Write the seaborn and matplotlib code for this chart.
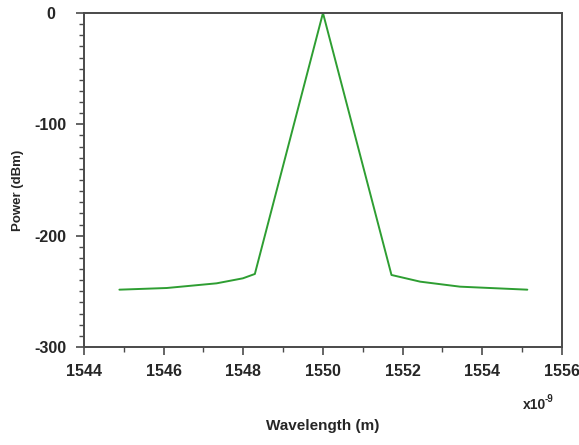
import matplotlib
matplotlib.use("Agg")
import matplotlib.pyplot as plt
from matplotlib.ticker import MultipleLocator, FuncFormatter
import numpy as np
import pandas as pd
import seaborn as sns

# Spectrum samples: wavelength (m) and optical power (dBm)
wavelength_nm = [1544.89, 1546.08, 1547.33, 1547.99, 1548.29, 1550.00,
                 1551.72, 1552.44, 1553.44, 1555.13]
power_dbm = [-248.5, -247.0, -242.8, -238.3, -234.4, 0.0,
             -235.3, -241.3, -245.8, -248.5]

x_ticks_nm = [1544, 1546, 1548, 1550, 1552, 1554, 1556]
y_ticks = [0, -100, -200, -300]

df = pd.DataFrame({"Wavelength (m)": np.array(wavelength_nm) * 1e-9,
                   "Power (dBm)": power_dbm})

sns.set_style("ticks")
plt.rcParams["font.family"] = ["Liberation Sans", "DejaVu Sans"]
plt.rcParams["axes.unicode_minus"] = False

fig = plt.figure(figsize=(5.79, 4.45), dpi=100)
ax = fig.add_axes([0.145, 0.2202, 0.8256, 0.7506])

sns.lineplot(data=df, x="Wavelength (m)", y="Power (dBm)", ax=ax,
             color="#2e9e32", linewidth=1.4, sort=False)

ax.set_xlim(1544e-9, 1556e-9)
ax.set_ylim(-300, 0)
ax.set_xticks([v * 1e-9 for v in x_ticks_nm])
ax.xaxis.set_minor_locator(MultipleLocator(1e-9))
ax.xaxis.set_major_formatter(FuncFormatter(lambda v, p: f"{v * 1e9:.0f}"))
ax.set_yticks(y_ticks)
ax.set_yticklabels([str(v) for v in y_ticks])
ax.yaxis.set_minor_locator(MultipleLocator(10))

spine_color = "#4a4a4a"
for side in ["top", "right", "bottom", "left"]:
    ax.spines[side].set_visible(True)
    ax.spines[side].set_color(spine_color)
    ax.spines[side].set_linewidth(1.4)

ax.tick_params(axis="both", which="major", direction="out", length=6,
               width=1.2, color=spine_color, labelsize=11.5)
ax.tick_params(axis="both", which="minor", direction="out", length=3.5,
               width=1.0, color=spine_color)
ax.tick_params(axis="x", which="major", pad=6)
ax.tick_params(axis="y", which="major", pad=18)
ax.tick_params(top=False, right=False, which="both")

for lbl in ax.get_xticklabels():
    lbl.set_fontweight("bold")
for lbl in ax.get_yticklabels():
    lbl.set_fontweight("bold")
    lbl.set_horizontalalignment("center")

ax.set_xlabel("Wavelength (m)", fontsize=11, fontweight="bold")
ax.set_ylabel("Power (dBm)", fontsize=9.5, fontweight="bold")
ax.xaxis.set_label_coords(0.5, -0.215)
ax.yaxis.set_label_coords(-0.125, 0.47)

# Axis scale multiplier shown under the right end of the x axis
ax.text(0.918, -0.175, "x10", transform=ax.transAxes,
        fontsize=10, fontweight="bold", ha="left", va="center")
ax.text(0.964, -0.157, "-9", transform=ax.transAxes,
        fontsize=7, fontweight="bold", ha="left", va="center")

fig.savefig("out.png", dpi=100)
